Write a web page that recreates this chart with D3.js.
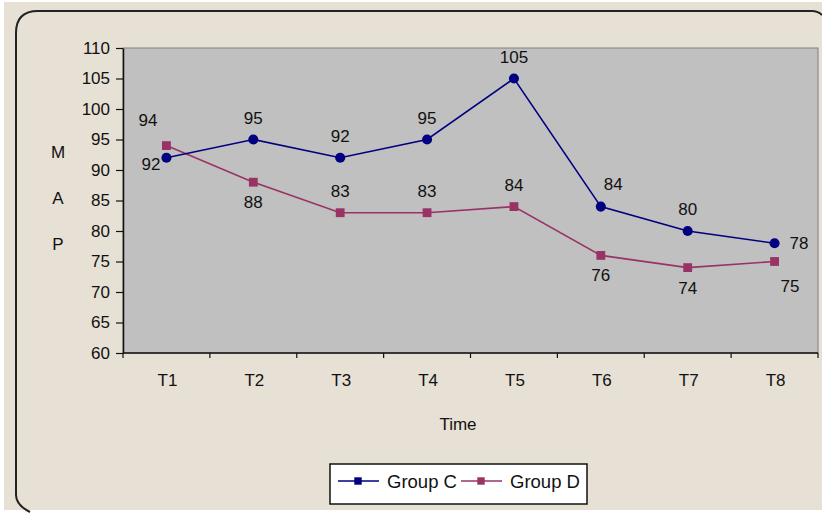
<!DOCTYPE html>
<html>
<head>
<meta charset="utf-8">
<script src="https://cdn.jsdelivr.net/npm/d3@7"></script>
<style>
    body { margin: 0; background: #fff; }
    text { font-family: "Liberation Sans", Arial, sans-serif; fill: #111; }
</style>
</head>
<body>
<div id="chart"></div>
<script>
// chart values
var categories = ["T1", "T2", "T3", "T4", "T5", "T6", "T7", "T8"];
var groupC = [92, 95, 92, 95, 105, 84, 80, 78];
var groupD = [94, 88, 83, 83, 84, 76, 74, 75];
var yTicks = [60, 65, 70, 75, 80, 85, 90, 95, 100, 105, 110];
var seriesNames = ["Group C", "Group D"];

// where each data label sits relative to its point
var labelPosC = ["left", "above", "above", "above", "above", "aboveRight", "above", "right"];
var labelPosD = ["aboveLeft", "below", "above", "above", "above", "below", "below", "belowRight"];

var width = 822, height = 515;
var plot = {left: 123, top: 48, right: 818, bottom: 353};
var fontSize = "17px";

var svg = d3.select("#chart").append("svg")
    .attr("width", width)
    .attr("height", height);

// beige chart area with the rounded frame
svg.append("rect")
    .attr("x", 4).attr("y", 2)
    .attr("width", 818).attr("height", 508)
    .attr("fill", "#e7e0d5");

svg.append("path")
    .attr("d", "M16,495 L16,33 Q16,11 38,11 L812,11 Q818,11 822,15")
    .attr("fill", "none")
    .attr("stroke", "#222")
    .attr("stroke-width", 2);
svg.append("path")
    .attr("d", "M16,495 Q16,505 30,512")
    .attr("fill", "none")
    .attr("stroke", "#222")
    .attr("stroke-width", 2);

var x = d3.scaleBand()
    .domain(categories)
    .range([plot.left, plot.right]);

var y = d3.scaleLinear()
    .domain([60, 110])
    .range([plot.bottom, plot.top]);

// plot area
svg.append("rect")
    .attr("x", plot.left).attr("y", plot.top)
    .attr("width", plot.right - plot.left)
    .attr("height", plot.bottom - plot.top)
    .attr("fill", "#c0c0c0")
    .attr("stroke", "#808080")
    .attr("stroke-width", 1);

// y axis
var yAxis = svg.append("g")
    .attr("transform", "translate(" + plot.left + ",0)")
    .call(d3.axisLeft(y).tickValues(yTicks).tickSize(7).tickPadding(6).tickSizeOuter(0));
yAxis.select(".domain").attr("stroke", "#111").attr("stroke-width", 1.5);
yAxis.selectAll(".tick line").attr("stroke", "#111").attr("stroke-width", 1.2);
yAxis.selectAll("text").style("font-size", fontSize).attr("fill", "#111");

// x axis: ticks on the band boundaries
var xAxis = svg.append("g")
    .attr("transform", "translate(0," + plot.bottom + ")");
xAxis.append("line")
    .attr("x1", plot.left).attr("x2", plot.right)
    .attr("stroke", "#111").attr("stroke-width", 1.5);
xAxis.selectAll(".xtick")
    .data(categories.concat(["end"]))
    .enter().append("line")
    .attr("class", "xtick")
    .attr("x1", function(d, i) { return plot.left + i * x.bandwidth(); })
    .attr("x2", function(d, i) { return plot.left + i * x.bandwidth(); })
    .attr("y1", 0).attr("y2", 5)
    .attr("stroke", "#111").attr("stroke-width", 1.2);
xAxis.selectAll(".xlabel")
    .data(categories)
    .enter().append("text")
    .attr("class", "xlabel")
    .attr("x", function(d) { return x(d) + x.bandwidth() / 2 + 1; })
    .attr("y", 33)
    .attr("text-anchor", "middle")
    .style("font-size", fontSize)
    .text(function(d) { return d; });

// axis titles
svg.append("text")
    .attr("x", 458).attr("y", 430)
    .attr("text-anchor", "middle")
    .style("font-size", fontSize)
    .text("Time");

svg.selectAll(".ytitle")
    .data(["M", "A", "P"])
    .enter().append("text")
    .attr("class", "ytitle")
    .attr("x", 58)
    .attr("y", function(d, i) { return 158 + i * 46; })
    .attr("text-anchor", "middle")
    .style("font-size", fontSize)
    .text(function(d) { return d; });

var line = d3.line()
    .x(function(d, i) { return x(categories[i]) + x.bandwidth() / 2; })
    .y(function(d) { return y(d); });

var colors = ["#000080", "#993366"];

function drawSeries(values, color, shape, positions) {
    svg.append("path")
        .datum(values)
        .attr("d", line)
        .attr("fill", "none")
        .attr("stroke", color)
        .attr("stroke-width", 1.6);

    var sym = d3.symbol().type(shape).size(shape === d3.symbolCircle ? 80 : 78);
    svg.selectAll(null)
        .data(values)
        .enter().append("path")
        .attr("d", sym)
        .attr("transform", function(d, i) {
            return "translate(" + (x(categories[i]) + x.bandwidth() / 2) + "," + y(d) + ")";
        })
        .attr("fill", color);

    var offsets = {
        above: [0, -16, "middle"],
        below: [0, 26, "middle"],
        left: [-6, 12, "end"],
        right: [15, 6, "start"],
        aboveLeft: [-9, -20, "end"],
        aboveRight: [3, -17, "start"],
        belowRight: [6, 30, "start"]
    };

    svg.selectAll(null)
        .data(values)
        .enter().append("text")
        .attr("x", function(d, i) { return x(categories[i]) + x.bandwidth() / 2 + offsets[positions[i]][0]; })
        .attr("y", function(d, i) { return y(d) + offsets[positions[i]][1]; })
        .attr("text-anchor", function(d, i) { return offsets[positions[i]][2]; })
        .style("font-size", fontSize)
        .text(function(d) { return d; });
}

drawSeries(groupD, colors[1], d3.symbolSquare, labelPosD);
drawSeries(groupC, colors[0], d3.symbolCircle, labelPosC);

// legend
var legend = svg.append("g").attr("transform", "translate(330,464)");
legend.append("rect")
    .attr("width", 257).attr("height", 40)
    .attr("fill", "#fff")
    .attr("stroke", "#111")
    .attr("stroke-width", 1.5);

var legendX = [8, 131];
seriesNames.forEach(function(name, i) {
    var g = legend.append("g").attr("transform", "translate(" + legendX[i] + ",17)");
    g.append("line")
        .attr("x1", 0).attr("x2", 41)
        .attr("stroke", colors[i]).attr("stroke-width", 1.6);
    g.append("path")
        .attr("d", d3.symbol().type(d3.symbolSquare).size(55))
        .attr("transform", "translate(20,0)")
        .attr("fill", colors[i]);
    g.append("text")
        .attr("x", 49).attr("y", 7)
        .style("font-size", "18.5px")
        .text(name);
});
</script>
</body>
</html>
